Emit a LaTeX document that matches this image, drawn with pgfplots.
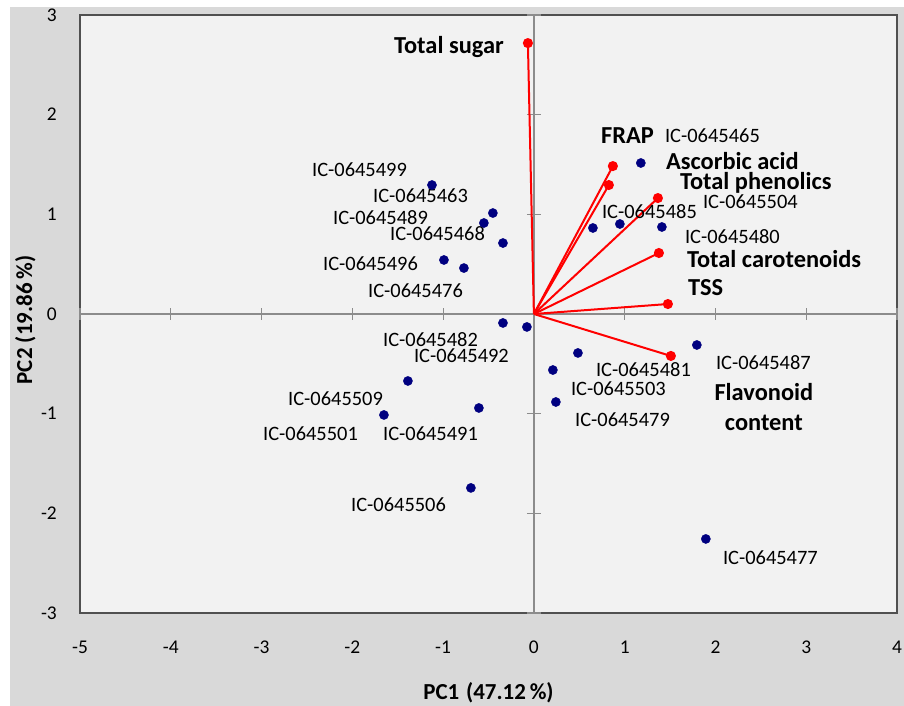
\documentclass[border=0pt]{standalone}
\usepackage{fontspec}
\setmainfont{Carlito}
\usepackage{pgfplots}
\pgfplotsset{compat=1.18}
\definecolor{outerbg}{HTML}{D9D9D9}
\definecolor{plotbg}{HTML}{F2F2F2}
\definecolor{framec}{HTML}{505050}
\definecolor{axisc}{HTML}{8C8C8C}
\definecolor{navy}{HTML}{000080}
\newcommand{\sampfont}{\fontsize{20.5}{24}\selectfont}
\newcommand{\varfont}{\fontsize{24.5}{30}\selectfont\bfseries}
\newcommand{\tl}[1]{\mbox{\fontsize{19.5}{22}\selectfont #1}}
\begin{document}
\begin{tikzpicture}[x=1bp,y=1bp,
  samp/.style={anchor=west, inner sep=0pt, font=\sampfont},
  var/.style={anchor=west, inner sep=0pt, font=\varfont},
  vec/.style={red, line width=2bp, mark=*, mark size=4bp, mark indices={2}, mark options={solid, fill=red}}]
\useasboundingbox (0,0) rectangle (904,706);
\fill[white] (0,0) rectangle (904,706);
\fill[outerbg] (10,0) rectangle (904,699);
\begin{axis}[
  at={(80bp,93bp)}, anchor=south west,
  width=817bp, height=598bp, scale only axis,
  xmin=-5, xmax=4, ymin=-3, ymax=3,
  axis background/.style={fill=plotbg},
  axis line style={draw=framec, line width=1.5bp},
  xtick={-5,-4,-3,-2,-1,0,1,2,3,4},
  ytick={-3,-2,-1,0,1,2,3},
  xticklabels={\tl{-5},\tl{-4},\tl{-3},\tl{-2},\tl{-1},\tl{0},\tl{1},\tl{2},\tl{3},\tl{4}},
  yticklabels={\tl{-3},\tl{-2},\tl{-1},\tl{0},\tl{1},\tl{2},\tl{3}},
  major tick length=0pt,
  tick label style={font=\fontsize{19.5}{22}\selectfont, inner sep=0pt},
  xticklabel style={anchor=center, yshift=-34bp},
  yticklabel style={anchor=east, xshift=-23bp},
  xlabel={PC1\hspace{0.3em}(47.12\,\%)},
  ylabel={PC2 (19.86\,\%)},
  xlabel style={at={(axis description cs:0.5,-0.133)}, anchor=center, font=\fontsize{23}{26}\selectfont\bfseries},
  ylabel style={at={(axis description cs:-0.067,0.49)}, anchor=center, font=\fontsize{23}{26}\selectfont\bfseries},
  clip=false,
]
% central axes
\draw[axisc, line width=1.3bp] (axis cs:-5,0) -- (axis cs:4,0);
\draw[axisc, line width=1.3bp] (axis cs:0,-3) -- (axis cs:0,3);
\pgfplotsinvokeforeach{-5,-4,-3,-2,-1,1,2,3,4}{
  \draw[axisc, line width=1.2bp] ([yshift=-6bp]axis cs:#1,0) -- ([yshift=6bp]axis cs:#1,0);
}
\pgfplotsinvokeforeach{-3,-2,-1,1,2,3}{
  \draw[axisc, line width=1.2bp] ([xshift=-7bp]axis cs:0,#1) -- ([xshift=7bp]axis cs:0,#1);
}
% loading vectors
\addplot[vec] coordinates {(0,0) (-0.066,2.718)};
\addplot[vec] coordinates {(0,0) (0.870,1.484)};
\addplot[vec] coordinates {(0,0) (0.826,1.294)};
\addplot[vec] coordinates {(0,0) (1.366,1.163)};
\addplot[vec] coordinates {(0,0) (1.377,0.612)};
\addplot[vec] coordinates {(0,0) (1.476,0.100)};
\addplot[vec] coordinates {(0,0) (1.509,-0.421)};
% scores
\addplot[only marks, mark=*, mark size=4.6bp, navy, mark options={fill=navy}] coordinates {
(1.178,1.515) (-1.123,1.294) (-0.452,1.013) (-0.551,0.913) (-0.341,0.712)
(-0.991,0.542) (-0.771,0.461) (0.650,0.863) (0.947,0.903) (1.410,0.873)
(-0.341,-0.090) (-0.077,-0.130) (0.485,-0.391) (0.209,-0.562) (0.242,-0.883)
(-1.388,-0.672) (-1.652,-1.013) (-0.606,-0.943) (-0.694,-1.745) (1.795,-0.311)
(1.894,-2.257)};
% sample labels
\node[samp] at (axis cs:1.443,1.785) {IC-0645465};
\node[samp] at (axis cs:-2.445,1.444) {IC-0645499};
\node[samp] at (axis cs:-1.773,1.184) {IC-0645463};
\node[samp] at (axis cs:-2.214,0.963) {IC-0645489};
\node[samp] at (axis cs:-1.586,0.802) {IC-0645468};
\node[samp] at (axis cs:-2.324,0.502) {IC-0645496};
\node[samp] at (axis cs:-1.828,0.231) {IC-0645476};
\node[samp] at (axis cs:0.749,1.023) {IC-0645485};
\node[samp] at (axis cs:1.861,1.123) {IC-0645504};
\node[samp] at (axis cs:1.663,0.772) {IC-0645480};
\node[samp] at (axis cs:-1.663,-0.255) {IC-0645482};
\node[samp] at (axis cs:-1.322,-0.418) {IC-0645492};
\node[samp] at (axis cs:0.683,-0.562) {IC-0645481};
\node[samp] at (axis cs:0.407,-0.752) {IC-0645503};
\node[samp] at (axis cs:0.452,-1.063) {IC-0645479};
\node[samp] at (axis cs:2.004,-0.491) {IC-0645487};
\node[samp] at (axis cs:-2.709,-0.853) {IC-0645509};
\node[samp] at (axis cs:-2.985,-1.204) {IC-0645501};
\node[samp] at (axis cs:-1.663,-1.204) {IC-0645491};
\node[samp] at (axis cs:-2.015,-1.916) {IC-0645506};
\node[samp] at (axis cs:2.081,-2.447) {IC-0645477};
% variable labels
\node[var] at (axis cs:-1.542,2.678) {Total sugar};
\node[var] at (axis cs:0.738,1.795) {FRAP};
\node[var] at (axis cs:1.454,1.535) {Ascorbic acid};
\node[var] at (axis cs:1.608,1.320) {Total phenolics};
\node[var] at (axis cs:1.685,0.552) {Total carotenoids};
\node[var] at (axis cs:1.696,0.261) {TSS};
\node[inner sep=0pt, font=\varfont, align=center] at (axis cs:2.533,-0.933) {Flavonoid\\content};
\end{axis}
\end{tikzpicture}
\end{document}
